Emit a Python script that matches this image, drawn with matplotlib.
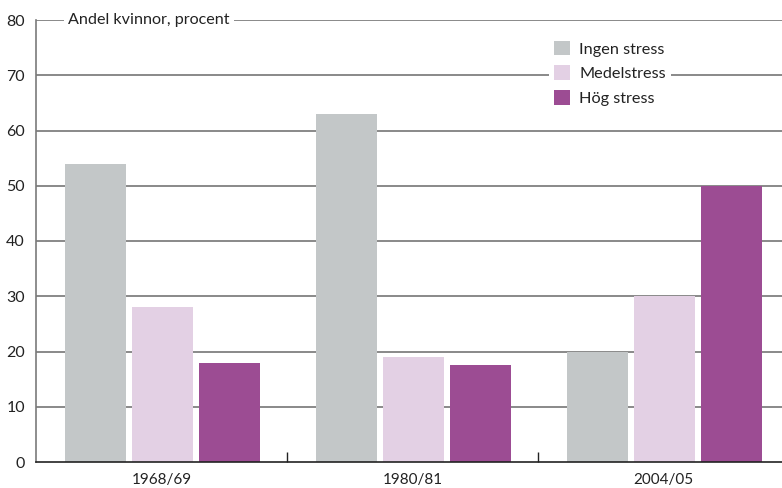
import matplotlib
matplotlib.use("Agg")
import matplotlib.pyplot as plt
import numpy as np
from matplotlib.ticker import FixedLocator

plt.rcParams['font.family'] = ['Lato', 'DejaVu Sans']

categories = ["1968/69", "1980/81", "2004/05"]
series_names = ["Ingen stress", "Medelstress", "Hög stress"]
ingen = [54, 63, 20]
medel = [28, 19, 30]
hog = [18, 17.6, 50]
yticks = [0, 10, 20, 30, 40, 50, 60, 70, 80]
ylabel_text = "Andel kvinnor, procent"

colors = ["#c3c7c8", "#e3d0e4", "#9c4c93"]

fig = plt.figure(figsize=(7.82, 4.88), dpi=100)
ax = fig.add_axes([36/782, 26/488, (782-36)/782, (462-20)/488])

x = np.arange(len(categories))
width = 0.243
step = 0.267
for i, (vals, name) in enumerate(zip([ingen, medel, hog], series_names)):
    ax.bar(x + (i - 1) * step + 0.003, vals, width, color=colors[i], label=name, zorder=3)

ax.set_xlim(-0.5, 2.472)
ax.set_ylim(0, 80)
ax.set_yticks(yticks)
ax.set_xticks(x)
ax.set_xticklabels(categories, fontsize=11, color="#222222")
ax.xaxis.set_minor_locator(FixedLocator([0.5, 1.5]))
ax.tick_params(axis='x', which='major', length=0, pad=8)
ax.tick_params(axis='x', which='minor', direction='in', length=7, width=1, color="#222222")
ax.tick_params(axis='y', length=0, pad=8, labelsize=11.5, labelcolor="#222222")

for t in yticks[1:]:
    ax.axhline(t, color="#6a6a6a", lw=1.1, zorder=1)

for s in ["top", "right"]:
    ax.spines[s].set_visible(False)
ax.spines["left"].set_color("#7a7a7a")
ax.spines["left"].set_linewidth(1.2)
ax.spines["bottom"].set_color("#222222")
ax.spines["bottom"].set_linewidth(1.2)
ax.spines["bottom"].set_zorder(4)

ax.text(68/782, 1 - 20/488, ylabel_text, transform=fig.transFigure, fontsize=11.6,
        color="#222222", ha="left", va="center",
        bbox=dict(facecolor="white", edgecolor="none", pad=3), zorder=5)

leg = ax.legend(loc="upper left", bbox_to_anchor=(549/782, 1 - 36/488),
                bbox_transform=fig.transFigure, fontsize=11.7, frameon=True,
                facecolor="white", edgecolor="none", framealpha=1, fancybox=False,
                handlelength=1.0, handleheight=1.0, labelspacing=0.54,
                handletextpad=0.55, borderpad=0.3, borderaxespad=0)
leg.set_zorder(6)
for txt in leg.get_texts():
    txt.set_color("#222222")

fig.savefig("out.png", dpi=100)
